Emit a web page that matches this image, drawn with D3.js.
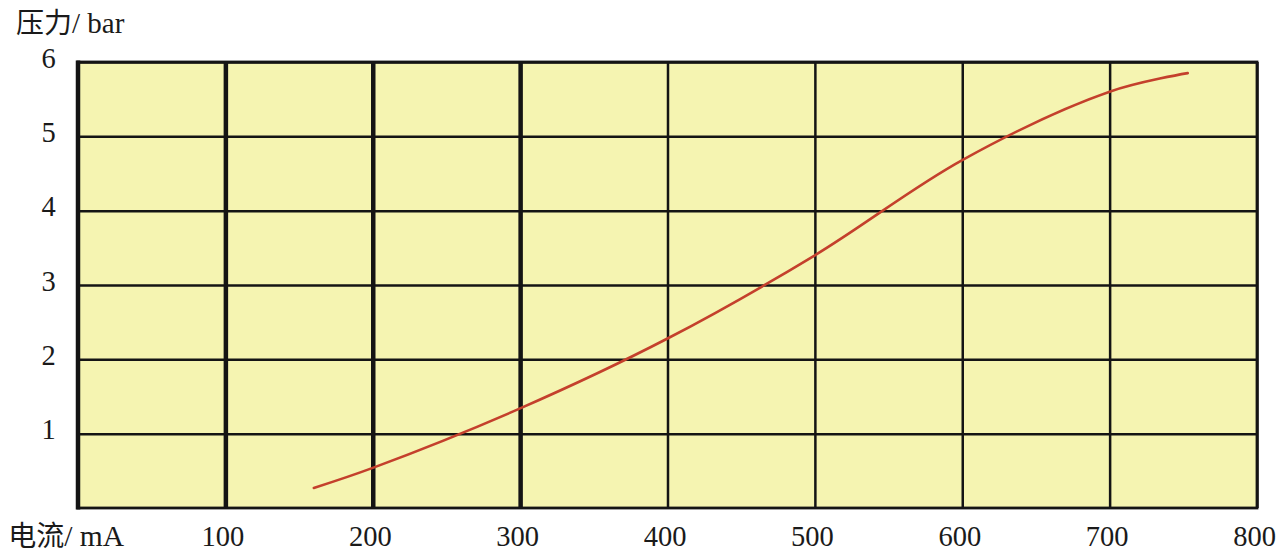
<!DOCTYPE html>
<html>
<head>
<meta charset="utf-8">
<script src="https://cdn.jsdelivr.net/npm/d3@7/dist/d3.min.js"></script>
<style>
  html, body { margin: 0; padding: 0; background: #fff; }
  svg { display: block; }
  text { font-family: "Liberation Serif", "Noto Sans CJK SC", serif; fill: #1a1a1a; }
</style>
</head>
<body>
<script>
// ---- data ----
const currentMA = [160, 200, 300, 400, 500, 600, 700, 753];
const pressureBar = [0.27, 0.54, 1.34, 2.28, 3.40, 4.68, 5.60, 5.85];
const xTickValues = [100, 200, 300, 400, 500, 600, 700, 800];
const xTickLabels = ["100", "200", "300", "400", "500", "600", "700", "800"];
const yTickValues = [1, 2, 3, 4, 5, 6];
const yTickLabels = ["1", "2", "3", "4", "5", "6"];
const xDomain = [0, 800];
const yDomain = [0, 6];
const yTitle = "压力/ bar";
const xTitle = "电流/ mA";

// ---- layout ----
const W = 1283, H = 551;
const pLeft = 78, pRight = 1257, pTop = 62, pBottom = 508;
const svg = d3.select("body").append("svg").attr("width", W).attr("height", H);

const x = d3.scaleLinear().domain(xDomain).range([pLeft, pRight]);
const y = d3.scaleLinear().domain(yDomain).range([pBottom, pTop]);

const lineColor = "#141414";

// background
svg.append("rect")
  .attr("x", x(xDomain[0])).attr("y", y(yDomain[1]))
  .attr("width", x(xDomain[1]) - x(xDomain[0]))
  .attr("height", y(yDomain[0]) - y(yDomain[1]))
  .attr("fill", "#f5f4b1");

// horizontal grid + y labels
const yAxis = svg.append("g")
  .attr("transform", `translate(${pLeft},0)`)
  .call(d3.axisLeft(y).tickValues(yTickValues)
    .tickFormat((d, i) => yTickLabels[i])
    .tickSize(-(pRight - pLeft)).tickPadding(0));
yAxis.select(".domain").remove();
yAxis.selectAll(".tick line").attr("stroke", lineColor).attr("stroke-width", 2.5);
yAxis.selectAll(".tick text")
  .attr("x", -29.5).attr("dy", null).attr("y", 5)
  .attr("text-anchor", "middle")
  .attr("font-size", 28.5);

// vertical grid + x labels
const xAxis = svg.append("g")
  .attr("transform", `translate(0,${pBottom})`)
  .call(d3.axisBottom(x).tickValues(xTickValues)
    .tickFormat((d, i) => xTickLabels[i])
    .tickSize(-(pBottom - pTop)).tickPadding(0));
xAxis.select(".domain").remove();
xAxis.selectAll(".tick line")
  .attr("stroke", lineColor)
  .attr("stroke-width", d => d <= 300 ? 4.5 : 2.5);
xAxis.selectAll(".tick text")
  .attr("dy", null).attr("y", 38).attr("dx", -3)
  .attr("text-anchor", "middle")
  .attr("font-size", 28.5);
svg.selectAll("g").attr("font-family", null).attr("font-size", null);

// plot border
svg.append("rect")
  .attr("x", x(xDomain[0])).attr("y", y(yDomain[1]))
  .attr("width", x(xDomain[1]) - x(xDomain[0]))
  .attr("height", y(yDomain[0]) - y(yDomain[1]))
  .attr("fill", "none").attr("stroke", lineColor).attr("stroke-width", 2.8);
svg.append("line")
  .attr("x1", x(xDomain[0])).attr("x2", x(xDomain[0]))
  .attr("y1", y(yDomain[1]) - 1.4).attr("y2", y(yDomain[0]) + 1.4)
  .attr("stroke", lineColor).attr("stroke-width", 4.5);

// curve
const pts = currentMA.map((c, i) => [c, pressureBar[i]]);
svg.append("path")
  .datum(pts)
  .attr("fill", "none")
  .attr("stroke", "#c4402c")
  .attr("stroke-width", 2.6)
  .attr("stroke-linecap", "round")
  .attr("d", d3.line().x(d => x(d[0])).y(d => y(d[1])).curve(d3.curveCatmullRom.alpha(0.5)));

// axis titles
const t1 = svg.append("text").attr("x", 16).attr("y", 33).attr("font-size", 29);
t1.append("tspan").attr("font-size", 28).text(yTitle.slice(0, 2));
t1.append("tspan").text(yTitle.slice(2));
const t2 = svg.append("text").attr("x", 124).attr("y", 546).attr("text-anchor", "end").attr("font-size", 29.5);
t2.append("tspan").attr("font-size", 28).text(xTitle.slice(0, 2));
t2.append("tspan").text(xTitle.slice(2));
</script>
</body>
</html>
